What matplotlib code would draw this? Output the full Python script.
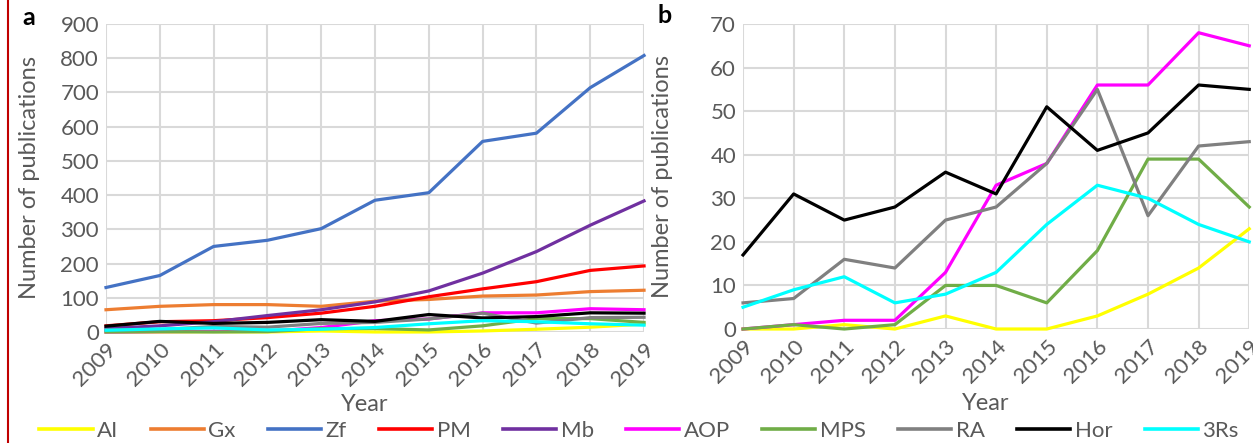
import matplotlib
matplotlib.use("Agg")
import matplotlib.pyplot as plt
from matplotlib.lines import Line2D

plt.rcParams['font.family'] = ['Lato', 'DejaVu Sans']

# data
years = [2009, 2010, 2011, 2012, 2013, 2014, 2015, 2016, 2017, 2018, 2019]
AI = [0, 0, 1, 0, 3, 0, 0, 3, 8, 14, 23]
Gx = [65, 75, 80, 80, 75, 90, 95, 105, 108, 118, 122]
Zf = [130, 165, 250, 268, 302, 385, 407, 557, 581, 714, 808]
PM = [18, 30, 33, 42, 55, 75, 103, 126, 147, 180, 193]
Mb = [10, 18, 30, 48, 65, 88, 120, 172, 235, 312, 383]
AOP = [0, 1, 2, 2, 13, 33, 38, 56, 56, 68, 65]
MPS = [0, 1, 0, 1, 10, 10, 6, 18, 39, 39, 28]
RA = [6, 7, 16, 14, 25, 28, 38, 55, 26, 42, 43]
Hor = [17, 31, 25, 28, 36, 31, 51, 41, 45, 56, 55]
R3s = [5, 9, 12, 6, 8, 13, 24, 33, 30, 24, 20]

names_a = ['AI', 'Gx', 'Zf', 'PM', 'Mb', 'AOP', 'MPS', 'RA', 'Hor', '3Rs']
series_a = [AI, Gx, Zf, PM, Mb, AOP, MPS, RA, Hor, R3s]
names_b = ['AI', 'AOP', 'MPS', 'RA', 'Hor', '3Rs']
series_b = [AI, AOP, MPS, RA, Hor, R3s]

colors = {'AI': '#FFFF00', 'Gx': '#ED7D31', 'Zf': '#4472C4', 'PM': '#FF0000',
          'Mb': '#7030A0', 'AOP': '#FF00FF', 'MPS': '#70AD47', 'RA': '#808080',
          'Hor': '#000000', '3Rs': '#00FFFF'}

txt = '#595959'
fig = plt.figure(figsize=(12.53, 4.43), dpi=100)
ax_a = fig.add_axes([0.0846, 0.2506, 0.4294, 0.6952])
ax_b = fig.add_axes([0.593, 0.2573, 0.404, 0.6885])


def style(ax, ymax, step, ylab_x, xlab_y):
    ax.set_xlim(years[0], years[-1])
    ax.set_ylim(0, ymax)
    ax.set_yticks(range(0, ymax + 1, step))
    ax.set_xticks(years)
    ax.set_xticklabels([str(y) for y in years], rotation=45, ha='right',
                       rotation_mode='anchor')
    ax.grid(True, color='#d9d9d9', lw=1.5)
    ax.set_axisbelow(True)
    for s in ax.spines.values():
        s.set_visible(False)
    ax.tick_params(length=0, labelsize=16, colors=txt, pad=5)
    ax.set_ylabel('Number of publications', fontsize=17, color=txt)
    ax.set_xlabel('Year', fontsize=17, color=txt)
    ax.yaxis.set_label_coords(ylab_x, 0.5)
    ax.xaxis.set_label_coords(0.48, xlab_y)


for n, s in zip(names_a, series_a):
    ax_a.plot(years, s, color=colors[n], lw=2.3, clip_on=False)
for n, s in zip(names_b, series_b):
    ax_b.plot(years, s, color=colors[n], lw=2.3, clip_on=False)

style(ax_a, 900, 100, -0.123, -0.2)
style(ax_b, 70, 10, -0.138, -0.21)

fig.text(0.018, 0.943, 'a', fontsize=18, fontweight='bold', color='black')
fig.text(0.525, 0.948, 'b', fontsize=18, fontweight='bold', color='black')

handles = [Line2D([], [], color=colors[n], lw=2.6) for n in names_a]
fig.legend(handles, names_a, loc='lower center', bbox_to_anchor=(0.51, -0.04),
           ncol=10, frameon=False, fontsize=16, labelcolor=txt,
           handlelength=2.4, handletextpad=0.2, columnspacing=1.45)

fig.add_artist(Line2D([0.0065, 0.0065], [0, 1], color='#C00000', lw=1.5,
                      transform=fig.transFigure))

fig.savefig('out.png', dpi=100)
